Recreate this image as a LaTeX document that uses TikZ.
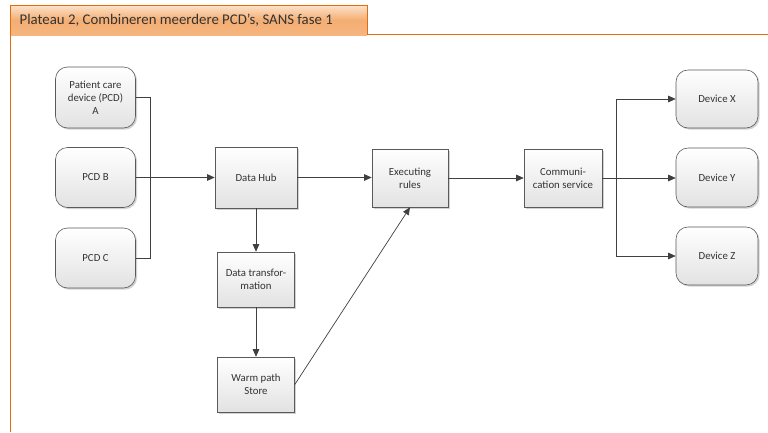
\documentclass[tikz,border=0pt]{standalone}
\usepackage{fontspec}
\setmainfont{Carlito}
\usetikzlibrary{arrows.meta,shadows}
\definecolor{orangeline}{HTML}{E46C0A}
\definecolor{tabtop}{HTML}{FCE3CC}
\definecolor{tabmid}{HTML}{F4AE72}
\definecolor{tabbot}{HTML}{F5B580}
\definecolor{boxline}{HTML}{5A5A5A}
\definecolor{boxbot}{HTML}{E2E2E2}
\definecolor{wire}{HTML}{404040}
\definecolor{txt}{HTML}{333333}
\tikzset{
  basebox/.style={draw=boxline, line width=0.6pt, top color=white, bottom color=boxbot,
    align=center, inner sep=0pt, text=txt, font=\fontsize{10.8}{13}\selectfont,
    drop shadow={shadow xshift=1.6pt, shadow yshift=-1.6pt, fill=black!35, opacity=0.5}},
  sqbox/.style={basebox, minimum width=#1},
  rbox/.style={basebox, rounded corners=12pt, minimum width=80pt},
  wireline/.style={draw=wire, line width=0.7pt},
  arr/.style={wireline, -{Triangle[length=7.5pt,width=6.5pt]}}
}
\begin{document}
\begin{tikzpicture}[x=1pt,y=-1pt]
\useasboundingbox[fill=white] (0,0) rectangle (768,432);
% title tab
\shade[top color=tabtop, bottom color=tabbot, middle color=tabmid] (10,5) rectangle (367,35);
\draw[orangeline, line width=0.8pt] (10,35) -- (10,5) -- (367,5) -- (367,35);
\draw[orangeline, line width=0.8pt] (367,34.5) -- (768,34.5);
\draw[orangeline, line width=0.8pt] (10,35) -- (10,432);
\node[anchor=west, inner sep=0pt, text=txt, font=\fontsize{14.8}{17}\selectfont] (title) at (19.5,20) {Plateau 2, Combineren meerdere PCD’s, SANS fase 1};

% left devices
\node[rbox, minimum height=61pt] (pcda) at (95.5,97.5) {Patient care\\device (PCD)\\A};
\node[rbox, minimum height=60pt] (pcdb) at (95.5,177.5) {PCD B};
\node[rbox, minimum height=60pt] (pcdc) at (95.5,258) {PCD C};

% middle
\node[sqbox=82pt, minimum height=61pt] (hub) at (256,177.5) {Data Hub};
\node[sqbox=77pt, minimum height=55pt] (trans) at (256,279.5) {Data transfor-\\mation};
\node[sqbox=77pt, minimum height=55pt] (warm) at (256,384.5) {Warm path\\Store};
\node[sqbox=76pt, minimum height=58pt] (exec) at (410,178) {Executing\\rules};
\node[sqbox=78pt, minimum height=58pt] (comm) at (563,178) {Communi-\\cation service};

% right devices
\node[rbox, minimum height=58pt, minimum width=82pt] (devx) at (717,99) {Device X};
\node[rbox, minimum height=59pt, minimum width=82pt] (devy) at (717,177.5) {Device Y};
\node[rbox, minimum height=58pt, minimum width=82pt] (devz) at (717,256) {Device Z};

\coordinate (bus) at (150,177.5);
\coordinate (split) at (616,178);

% connectors
\draw[wireline] (pcda.east) -| (bus);
\draw[wireline] (pcdc.east) -| (bus);
\draw[arr] (pcdb.east) -- (hub.west);
\draw[arr] (hub.east) -- (exec.west |- hub.east);
\draw[arr] (hub.south) -- (trans.north);
\draw[arr] (trans.south) -- (warm.north);
\draw[arr] (warm.east) -- (exec.south);
\draw[arr] (exec.east) -- (comm.west);
\draw[arr] (comm.east) -- (devy.west |- comm.east);
\draw[arr] (split) |- (devx.west);
\draw[arr] (split) |- (devz.west);
\end{tikzpicture}
\end{document}
